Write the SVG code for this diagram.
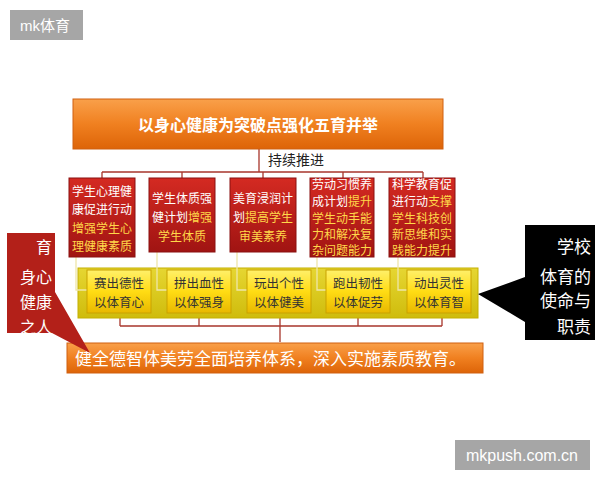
<svg xmlns="http://www.w3.org/2000/svg" width="600" height="480" viewBox="0 0 600 480">
<defs>
<linearGradient id="gOr" x1="0" y1="0" x2="0" y2="1"><stop offset="0" stop-color="#f9a04a"/><stop offset="0.5" stop-color="#f08020"/><stop offset="1" stop-color="#dd6408"/></linearGradient>
<linearGradient id="gRed" x1="0" y1="0" x2="0" y2="1"><stop offset="0" stop-color="#d42a22"/><stop offset="1" stop-color="#a01412"/></linearGradient>
<linearGradient id="gBand" x1="0" y1="0" x2="0" y2="1"><stop offset="0" stop-color="#e6d632"/><stop offset="1" stop-color="#cfbc0c"/></linearGradient>
<linearGradient id="gBtn" x1="0" y1="0" x2="0" y2="1"><stop offset="0" stop-color="#fff06a"/><stop offset="0.5" stop-color="#ffdc14"/><stop offset="1" stop-color="#e8b800"/></linearGradient>
<style>
text{font-family:"Noto Sans CJK SC","Liberation Sans",sans-serif}
.wm{fill:#a6a6a6}
.wmt{fill:#fff;font-family:"Liberation Sans","Noto Sans CJK SC",sans-serif}
.red{fill:url(#gRed);stroke:#8a1010;stroke-width:1}
.rt{font-size:12px;text-anchor:middle;fill:#fff}
.y{fill:#ffd84a}
.btn{fill:url(#gBtn);stroke:#c9a200;stroke-width:1}
.bt{font-size:12.5px;text-anchor:middle;fill:#333}
.ln{stroke:#a8362c;stroke-width:1.3;fill:none}
.pl{stroke:#eee6a8;stroke-width:1.3;fill:none}
</style>
</defs>
<rect width="600" height="480" fill="#fff"/>

<g id="wm1"><rect class="wm" x="10" y="10" width="73" height="30"/><text class="wmt" x="20" y="31" font-size="15">mk体育</text></g>
<g id="wm2"><rect class="wm" x="455" y="440" width="135" height="30"/><text class="wmt" x="522" y="461" font-size="16" text-anchor="middle">mkpush.com.cn</text></g>

<g id="connectors">
<path class="ln" d="M259,149 V172 M102,172 H423 M102,172 V178 M182,172 V178 M263,172 V178 M343,172 V178 M423,172 V178"/>
<path class="ln" d="M120,313 V326 M199,313 V326 M280,313 V326 M358,313 V326 M442,313 V326 M120,326 H442 M280,326 V342"/>
</g>

<g id="title">
<rect x="73" y="99" width="370" height="50" fill="url(#gOr)" stroke="#d06010"/>
<text x="258" y="131" font-size="16" font-weight="bold" fill="#fff" text-anchor="middle">以身心健康为突破点强化五育并举</text>
</g>
<g id="label"><text x="296" y="165" font-size="14" fill="#222" text-anchor="middle">持续推进</text></g>

<g id="band"><rect x="78" y="268" width="400" height="50" fill="url(#gBand)" stroke="#c4b000"/></g>

<g id="pale">
<path class="pl" d="M76,257 V290 H87 M157,252 V290 H167 M237,252 V290 H247 M317,257 V290 H326 M398,257 V290 H407"/>
</g>

<g id="box1"><rect class="red" x="69" y="178" width="66" height="79"/>
<text class="rt" x="102" y="196">学生心理健</text><text class="rt" x="102" y="214">康促进行动</text>
<text class="rt y" x="102" y="233">增强学生心</text><text class="rt y" x="102" y="251">理健康素质</text></g>
<g id="box2"><rect class="red" x="149" y="178" width="66" height="74"/>
<text class="rt" x="182" y="203">学生体质强</text><text class="rt" x="182" y="222">健计划<tspan class="y">增强</tspan></text>
<text class="rt y" x="182" y="241">学生体质</text></g>
<g id="box3"><rect class="red" x="230" y="178" width="66" height="74"/>
<text class="rt" x="263" y="203">美育浸润计</text><text class="rt" x="263" y="222">划<tspan class="y">提高学生</tspan></text>
<text class="rt y" x="263" y="241">审美素养</text></g>
<g id="box4"><rect class="red" x="310" y="178" width="64" height="79"/>
<text class="rt" x="342" y="188.5">劳动习惯养</text><text class="rt" x="342" y="205.5">成计划<tspan class="y">提升</tspan></text>
<text class="rt y" x="342" y="222.5">学生动手能</text><text class="rt y" x="342" y="239">力和解决复</text><text class="rt y" x="342" y="255">杂问题能力</text></g>
<g id="box5"><rect class="red" x="389" y="178" width="66" height="79"/>
<text class="rt" x="422" y="188.5">科学教育促</text><text class="rt" x="422" y="205.5">进行动<tspan class="y">支撑</tspan></text>
<text class="rt y" x="422" y="222.5">学生科技创</text><text class="rt y" x="422" y="239">新思维和实</text><text class="rt y" x="422" y="255">践能力提升</text></g>

<g id="btn1"><rect class="btn" x="87" y="270" width="64" height="43"/><text class="bt" x="119" y="288">赛出德性</text><text class="bt" x="119" y="307">以体育心</text></g>
<g id="btn2"><rect class="btn" x="167" y="270" width="64" height="43"/><text class="bt" x="199" y="288">拼出血性</text><text class="bt" x="199" y="307">以体强身</text></g>
<g id="btn3"><rect class="btn" x="247" y="270" width="64" height="43"/><text class="bt" x="279" y="288">玩出个性</text><text class="bt" x="279" y="307">以体健美</text></g>
<g id="btn4"><rect class="btn" x="326" y="270" width="64" height="43"/><text class="bt" x="358" y="288">跑出韧性</text><text class="bt" x="358" y="307">以体促劳</text></g>
<g id="btn5"><rect class="btn" x="407" y="270" width="64" height="43"/><text class="bt" x="439" y="288">动出灵性</text><text class="bt" x="439" y="307">以体育智</text></g>

<g id="bottom">
<rect x="67" y="343" width="416" height="30" fill="url(#gOr)" stroke="#d06010"/>
<text x="75" y="365" font-size="17" fill="#fff">健全德智体美劳全面培养体系，深入实施素质教育。</text>
</g>

<g id="leftCallout">
<path d="M7,233 H55 V292 L90,353 L52,333 H7 Z" fill="#b32019"/>
<text x="52" y="253" font-size="16" fill="#fff" text-anchor="end">育</text>
<text x="52" y="283" font-size="16" fill="#fff" text-anchor="end">身心</text>
<text x="52" y="308" font-size="16" fill="#fff" text-anchor="end">健康</text>
<text x="52" y="333" font-size="16" fill="#fff" text-anchor="end">之人</text>
</g>

<g id="rightCallout">
<path d="M525,225 H595 V340 H525 V322 L478,294 L525,277 Z" fill="#000"/>
<text x="591" y="253" font-size="17" fill="#fff" text-anchor="end">学校</text>
<text x="591" y="283" font-size="17" fill="#fff" text-anchor="end">体育的</text>
<text x="591" y="307" font-size="17" fill="#fff" text-anchor="end">使命与</text>
<text x="591" y="333" font-size="17" fill="#fff" text-anchor="end">职责</text>
</g>
</svg>
